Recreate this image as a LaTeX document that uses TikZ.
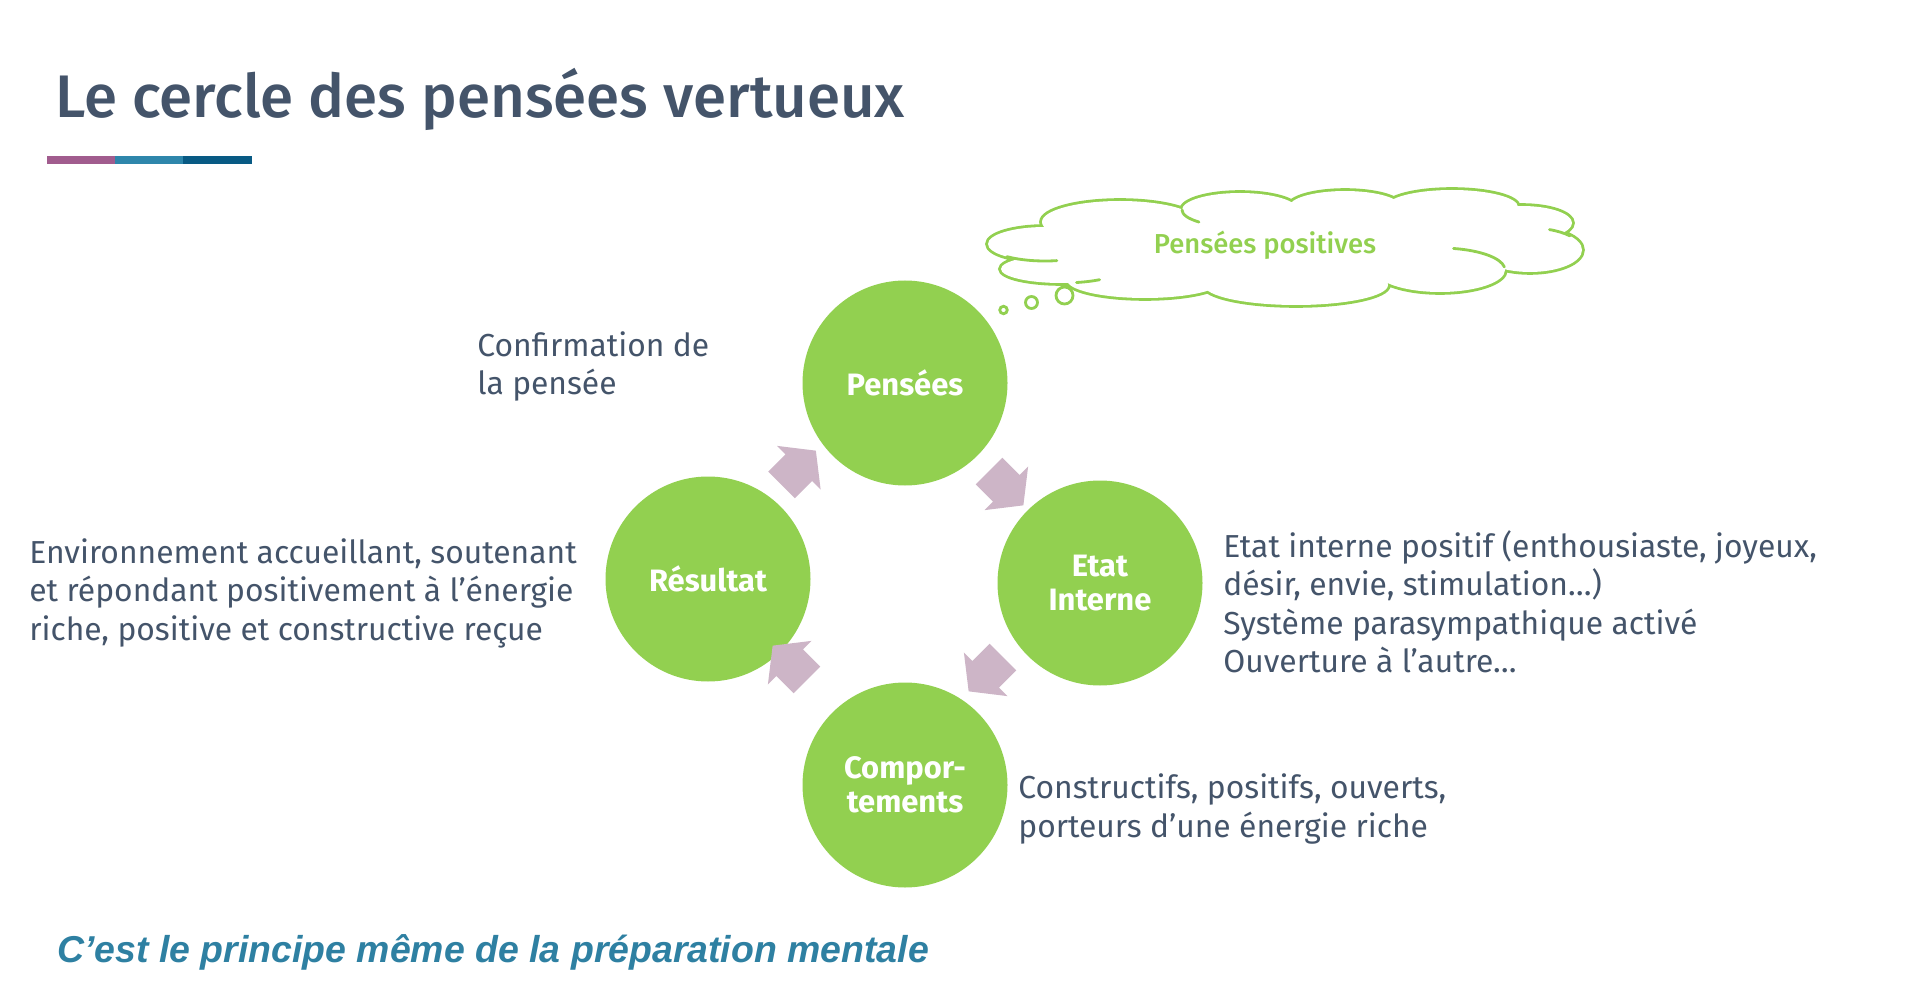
\documentclass[tikz,border=0pt]{standalone}
\usepackage{fontspec}
\setmainfont{Fira Sans}
\newfontfamily\headfont{Fira Sans Medium}
\newfontfamily\arialfont{Liberation Sans}
\usepackage{tikz}
\usetikzlibrary{shapes.arrows}
\definecolor{Slate}{HTML}{44546A}
\definecolor{Leaf}{HTML}{92D050}
\definecolor{Mauve}{RGB}{205,181,199}
\definecolor{Plum}{RGB}{161,92,142}
\definecolor{Teal}{RGB}{46,134,171}
\definecolor{Navy}{RGB}{8,90,132}
\definecolor{Lagoon}{RGB}{46,128,162}
\tikzstyle{none}=[inner sep=0pt]
\tikzstyle{title}=[inner sep=0pt, text=Slate, font=\headfont\fontsize{34.2}{40}\selectfont]
\tikzstyle{phase}=[circle, fill=Leaf, minimum size=4.1cm, inner sep=0pt, text=white, align=center, font=\bfseries\fontsize{17.6}{19.5}\selectfont]
\tikzstyle{note}=[inner sep=0pt, anchor=north west, align=left, text=Slate, font=\fontsize{18.1}{21.9}\selectfont]
\tikzstyle{turn}=[single arrow, fill=Mauve, inner xsep=0pt, inner ysep=0.37cm, minimum height=0.97cm, single arrow head extend=0.24cm, single arrow tip angle=104]
\tikzstyle{bubble}=[circle, draw=Leaf, line width=1.6pt, fill=white, inner sep=0pt]
\tikzstyle{puffline}=[draw=Leaf, line width=1.6pt, line cap=round]
\tikzstyle{thinking}=[inner sep=0pt, text=Leaf, font=\headfont\fontsize{15.6}{18}\selectfont]
\tikzstyle{motto}=[inner sep=0pt, text=Lagoon, font=\arialfont\bfseries\itshape\fontsize{21.3}{24}\selectfont]

\begin{document}
\begin{tikzpicture}
  \useasboundingbox (0, 0) rectangle (38.28, -19.78);
  \node [style=title, anchor=base west] (0) at (1.1, -2.36) {Le cercle des pensées vertueux};
  \fill [Plum] (0.93, -3.12) rectangle (2.29, -3.28);
  \fill [Teal] (2.29, -3.12) rectangle (3.66, -3.28);
  \fill [Navy] (3.66, -3.12) rectangle (5.03, -3.28);
  % cloud: outline of the puffs, then white inside
  \draw [Leaf, line width=3.2pt]
    (20.9, -4.88) ellipse [x radius=1.14, y radius=0.34]
    (21.22, -5.38) ellipse [x radius=1.2, y radius=0.28]
    (22.9, -5.6) ellipse [x radius=1.56, y radius=0.36]
    (25.92, -5.7) ellipse [x radius=1.84, y radius=0.4]
    (28.8, -5.4) ellipse [x radius=1.3, y radius=0.44]
    (30.6, -5) ellipse [x radius=1.04, y radius=0.44]
    (30.44, -4.46) ellipse [x radius=1, y radius=0.34]
    (29.04, -4.14) ellipse [x radius=1.32, y radius=0.34]
    (26.9, -4.14) ellipse [x radius=1.12, y radius=0.32]
    (24.8, -4.2) ellipse [x radius=1.16, y radius=0.34]
    (22.4, -4.44) ellipse [x radius=1.56, y radius=0.42];
  \fill [white]
    (20.9, -4.88) ellipse [x radius=1.14, y radius=0.34]
    (21.22, -5.38) ellipse [x radius=1.2, y radius=0.28]
    (22.9, -5.6) ellipse [x radius=1.56, y radius=0.36]
    (25.92, -5.7) ellipse [x radius=1.84, y radius=0.4]
    (28.8, -5.4) ellipse [x radius=1.3, y radius=0.44]
    (30.6, -5) ellipse [x radius=1.04, y radius=0.44]
    (30.44, -4.46) ellipse [x radius=1, y radius=0.34]
    (29.04, -4.14) ellipse [x radius=1.32, y radius=0.34]
    (26.9, -4.14) ellipse [x radius=1.12, y radius=0.32]
    (24.8, -4.2) ellipse [x radius=1.16, y radius=0.34]
    (22.4, -4.44) ellipse [x radius=1.56, y radius=0.42]
    (25.7, -4.94) ellipse [x radius=5, y radius=0.8];
  \draw [style=puffline] (20.9, -4.88) ++(228:1.14 and 0.34) arc [start angle=228, end angle=282, x radius=1.14, y radius=0.34];
  \draw [style=puffline] (21.22, -5.38) ++(285:1.2 and 0.28) arc [start angle=285, end angle=310, x radius=1.2, y radius=0.28];
  \draw [style=puffline] (28.8, -5.4) ++(78:1.3 and 0.44) arc [start angle=78, end angle=8, x radius=1.3, y radius=0.44];
  \draw [style=puffline] (30.6, -5) ++(68:1.04 and 0.44) arc [start angle=68, end angle=40, x radius=1.04, y radius=0.44];
  \draw [style=puffline] (24.8, -4.2) ++(180:1.16 and 0.34) arc [start angle=180, end angle=225, x radius=1.16, y radius=0.34];
  \node [style=thinking] (1) at (25.3, -4.9) {Pensées positives};
  \node [style=bubble, minimum size=0.34cm] (2) at (21.29, -5.91) {};
  \node [style=bubble, minimum size=0.24cm] (3) at (20.63, -6.05) {};
  \node [style=bubble, minimum size=0.15cm] (4) at (20.07, -6.2) {};
  \node [style=phase] (5) at (18.1, -7.66) {Pensées};
  \node [style=phase] (6) at (22, -11.66) {Etat\\Interne};
  \node [style=phase] (7) at (18.1, -15.7) {Compor-\\tements};
  \node [style=phase] (8) at (14.16, -11.58) {Résultat};
  \node [style=turn, rotate=-45] (9) at (20.02, -9.66) {};
  \node [style=turn, rotate=-135] (10) at (19.82, -13.38) {};
  \node [style=turn, rotate=135] (11) at (15.9, -13.36) {};
  \node [style=turn, rotate=45] (12) at (15.87, -9.46) {};
  \node [style=note] (13) at (9.54, -6.62) {Confirmation de\\la pensée};
  \node [style=note] (14) at (24.46, -10.6) {Etat interne positif (enthousiaste, joyeux,\\désir, envie, stimulation…)\\Système parasympathique activé\\Ouverture à l’autre…};
  \node [style=note] (15) at (20.36, -15.47) {Constructifs, positifs, ouverts,\\porteurs d’une énergie riche};
  \node [style=note] (16) at (0.58, -10.76) {Environnement accueillant, soutenant\\et répondant positivement à l’énergie\\riche, positive et constructive reçue};
  \node [style=motto, anchor=base west] (17) at (1.14, -19.24) {C’est le principe même de la préparation mentale};
\end{tikzpicture}
\end{document}
